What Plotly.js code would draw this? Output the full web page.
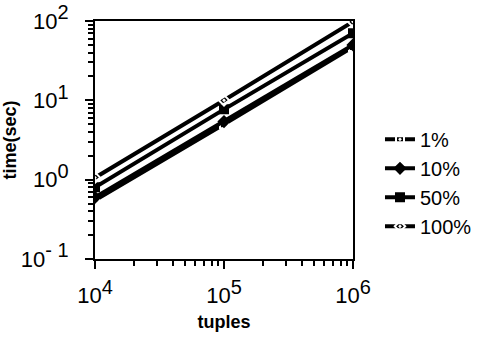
<!DOCTYPE html>
<html><head><meta charset="utf-8">
<script src="https://cdn.plot.ly/plotly-3.0.1.min.js"></script>
<style>body{margin:0;background:#fff}#c{width:481px;height:338px}</style>
</head><body><div id="c"></div>
<script>
const tuples = [1e4, 1e5, 1e6];
const seriesNames = ['1%', '10%', '50%', '100%'];
const s1 = [0.55, 5.0, 47];
const s10 = [0.6, 5.4, 50];
const s50 = [0.8, 7.7, 70];
const s100 = [1.06, 10, 98];
const xTickVals = [1e4, 1e5, 1e6];
const xExponents = ['4', '5', '6'];
const yTickVals = [0.1, 1, 10, 100];
const yExponents = ['- 1', '0', '1', '2'];
const sup = e => '10<sup><span style="font-size:20px">' + e + '</span></sup>';
const xTickText = xExponents.map(sup);
const yTickText = yExponents.map(sup);

const symbols = ['square-open-dot', 'diamond', 'square', 'diamond-open-dot'];
const data = [s1, s10, s50, s100].map((y, i) => ({
  x: tuples, y: y, name: seriesNames[i], legendgroup: 'g' + i, type: 'scatter', mode: 'lines+markers',
  line: {color: '#000', width: 4},
  marker: {symbol: symbols[i], size: 8, color: symbols[i].includes('open') ? '#fff' : '#000',
           line: {color: '#000', width: 2}}
}));
const ff = 'Liberation Sans, Arial, sans-serif';
const layout = {
  width: 481, height: 338,
  margin: {l: 95, r: 128, t: 21, b: 79},
  paper_bgcolor: '#fff', plot_bgcolor: '#fff',
  font: {family: ff, color: '#000'},
  showlegend: true,
  legend: {xref: 'container', x: 0.79, y: 0.32, yanchor: 'middle', xanchor: 'left', font: {size: 20, family: ff},
           tracegroupgap: 0, itemwidth: 30, bgcolor: 'rgba(0,0,0,0)'},
  xaxis: {type: 'log', range: [4, 6], tickvals: xTickVals, ticktext: xTickText, automargin: false,
          ticks: 'outside', ticklen: 8, tickwidth: 2, tickcolor: '#000', ticklabelstandoff: 8,
          showline: true, linewidth: 2, linecolor: '#000', mirror: true, showgrid: false, zeroline: false,
          tickfont: {size: 22, family: ff},
          minor: {ticks: 'outside', ticklen: 5, tickwidth: 2, tickcolor: '#000', dtick: 'D1', showgrid: false},
          title: {text: '<b>tuples</b>', font: {size: 18, family: ff}, standoff: 8}},
  yaxis: {type: 'log', range: [-1, 2], tickvals: yTickVals, ticktext: yTickText, automargin: false,
          ticks: 'outside', ticklen: 8, tickwidth: 2, tickcolor: '#000', ticklabelstandoff: 12,
          showline: true, linewidth: 2, linecolor: '#000', mirror: true, showgrid: false, zeroline: false,
          tickfont: {size: 22, family: ff},
          minor: {ticks: 'outside', ticklen: 5, tickwidth: 2, tickcolor: '#000', dtick: 'D1', showgrid: false},
          title: {text: '<b>time(sec)</b>', font: {size: 18, family: ff}, standoff: 0}}
};
Plotly.newPlot('c', data, layout, {displayModeBar: false, staticPlot: true});
</script></body></html>
